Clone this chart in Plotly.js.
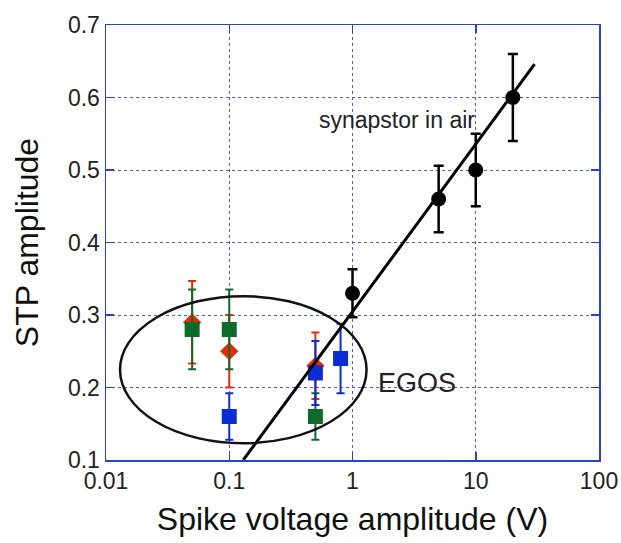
<!DOCTYPE html>
<html>
<head>
<meta charset="utf-8">
<script src="https://cdn.plot.ly/plotly-3.0.1.min.js"></script>
<style>html,body{margin:0;padding:0;background:#fff;}#chart{width:621px;height:543px;}</style>
</head>
<body>
<div id="chart"></div>
<script>
// synapstor in air (black circles)
const airX = [1, 5, 10, 20];
const airY = [0.33, 0.46, 0.50, 0.60];
const airErr = [0.033, 0.046, 0.05, 0.06];

// EGOS series
const redX = [0.05, 0.1, 0.5];
const redY = [0.29, 0.25, 0.23];
const redErr = [0.057, 0.05, 0.046];

const greenX = [0.05, 0.1, 0.5];
const greenY = [0.28, 0.28, 0.16];
const greenErr = [0.055, 0.055, 0.032];

const blueX = [0.1, 0.5, 0.8];
const blueY = [0.16, 0.22, 0.24];
const blueErr = [0.032, 0.044, 0.048];

// fitted line endpoints
const fitX = [0.13, 30];
const fitY = [0.1, 0.646];

const xTickVals = [0.01, 0.1, 1, 10, 100];
const xTickText = ['0.01', '0.1', '1', '10', '100'];
const yTickVals = [0.1, 0.2, 0.3, 0.4, 0.5, 0.6, 0.7];
const yTickText = ['0.1', '0.2', '0.3', '0.4', '0.5', '0.6', '0.7'];

const FONT = 'Arial, "Liberation Sans", sans-serif';
const RED = '#e62a08', GREEN = '#0c6a2a', BLUE = '#0b2dd4', AXIS = '#2b40cc', GRID = '#4a5ccf';

function errTrace(x, y, e, color, symbol, size, thick, capw) {
  return {
    x: x, y: y, type: 'scatter', mode: 'markers',
    marker: {symbol: symbol, size: size, color: color, line: {width: 0}},
    error_y: {type: 'data', array: e, visible: true, color: color, thickness: thick, width: capw},
    showlegend: false, hoverinfo: 'x+y'
  };
}

const traces = [
  errTrace(redX, redY, redErr, RED, 'diamond', 14, 2, 4),
  errTrace(greenX, greenY, greenErr, GREEN, 'square', 15, 2, 4),
  errTrace(blueX, blueY, blueErr, BLUE, 'square', 15, 2, 4),
  {x: fitX, y: fitY, type: 'scatter', mode: 'lines', line: {color: '#000', width: 3}, showlegend: false},
  errTrace(airX, airY, airErr, '#000', 'circle', 15, 2.5, 5)
];

const layout = {
  width: 621, height: 543,
  margin: {l: 106, r: 22, t: 25, b: 83},
  paper_bgcolor: '#fff', plot_bgcolor: '#fff',
  font: {family: FONT, color: '#222'},
  xaxis: {
    type: 'log', range: [-2, 2],
    tickvals: xTickVals, ticktext: xTickText,
    tickfont: {size: 23, family: FONT, color: '#222'},
    ticks: 'inside', ticklen: 8, tickcolor: AXIS, tickwidth: 1.5,
    showline: true, linecolor: AXIS, linewidth: 1.5, mirror: 'ticks',
    showgrid: true, gridcolor: GRID, gridwidth: 1, griddash: 'dot',
    zeroline: false, automargin: false,
    title: {text: 'Spike voltage amplitude (V)', font: {size: 32, family: FONT, color: '#111'}, standoff: 14}
  },
  yaxis: {
    range: [0.1, 0.7],
    tickvals: yTickVals, ticktext: yTickText,
    tickfont: {size: 23, family: FONT, color: '#222'},
    ticks: 'inside', ticklen: 8, tickcolor: AXIS, tickwidth: 1.5,
    showline: true, linecolor: AXIS, linewidth: 1.5, mirror: 'ticks',
    showgrid: true, gridcolor: GRID, gridwidth: 1, griddash: 'dot',
    zeroline: false, automargin: false,
    title: {text: 'STP amplitude', font: {size: 32, family: FONT, color: '#111'}, standoff: 19}
  },
  shapes: [{
    type: 'circle', xref: 'x', yref: 'y', layer: 'above',
    x0: 0.013, x1: 1.30, y0: 0.123, y1: 0.326,
    line: {color: '#111', width: 2.5}
  }],
  annotations: [
    {x: 0.36, y: 0.569, xref: 'x', yref: 'y', text: 'synapstor in air', showarrow: false,
     font: {size: 23, family: FONT, color: '#222'}},
    {x: 0.522, y: 0.206, xref: 'x', yref: 'y', text: 'EGOS', showarrow: false,
     font: {size: 27, family: FONT, color: '#222'}}
  ]
};

Plotly.newPlot('chart', traces, layout, {staticPlot: true, displayModeBar: false});
</script>
</body>
</html>
